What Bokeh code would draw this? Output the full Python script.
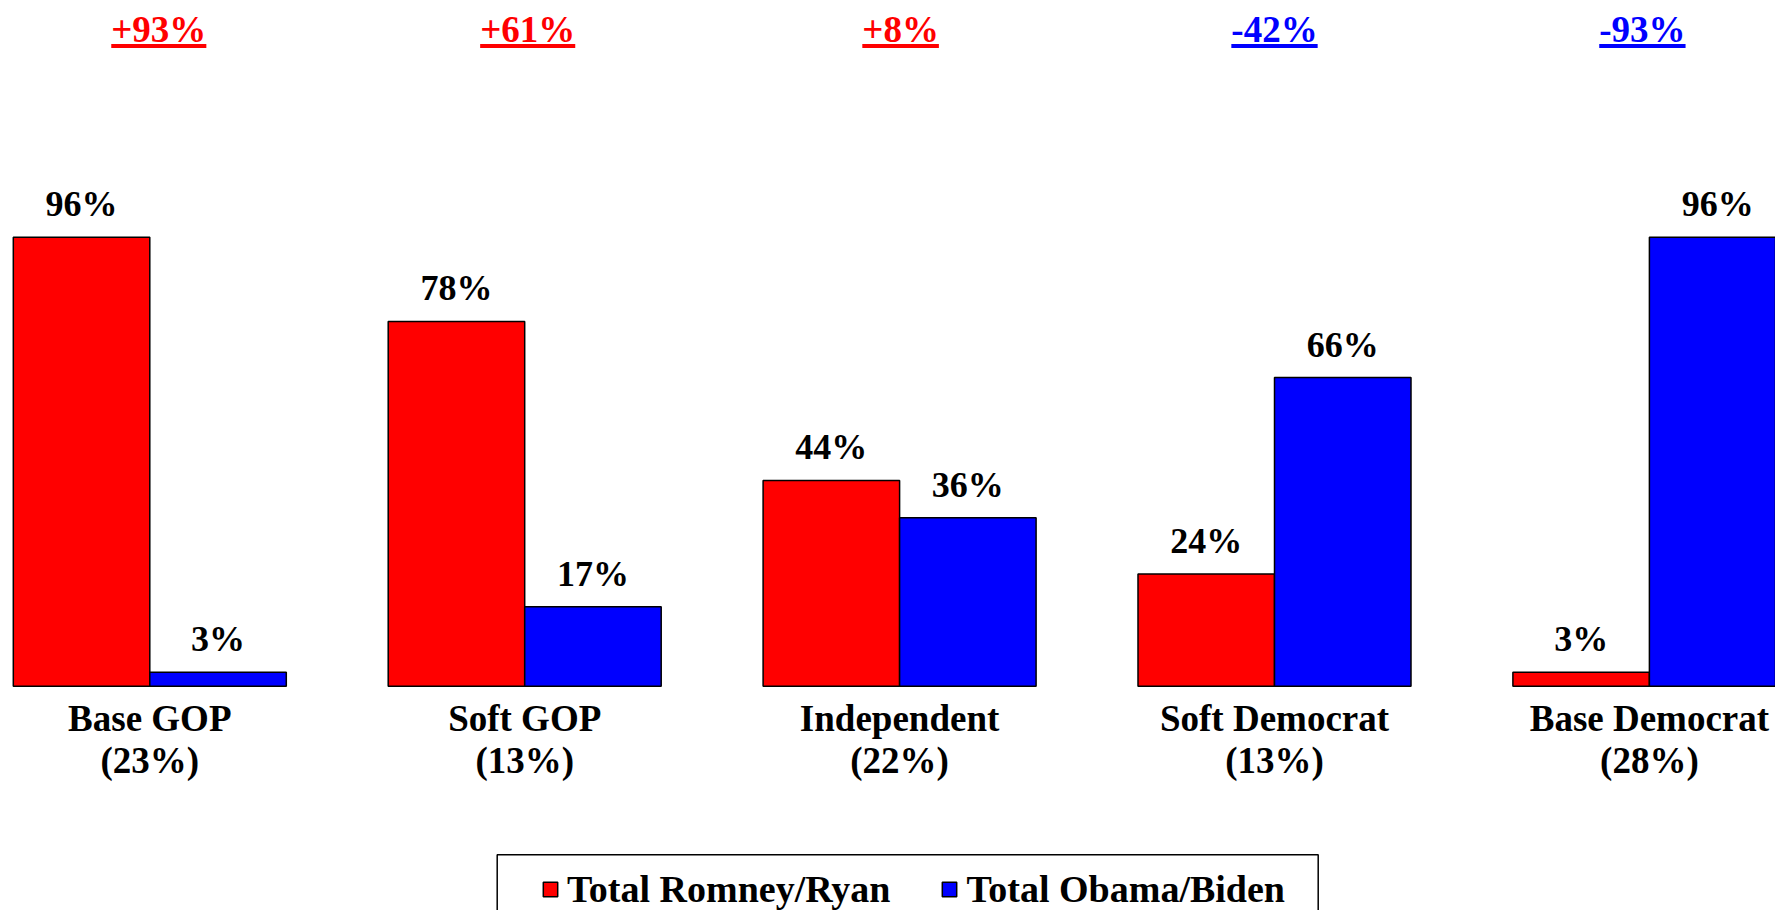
from bokeh.plotting import figure
from bokeh.models import ColumnDataSource, Range1d, Legend, LegendItem, BoxAnnotation
from bokeh.core.properties import value
from bokeh.transform import dodge
from bokeh.embed import file_html
from bokeh.resources import INLINE

# ---------------- data ----------------
categories = ["Base GOP", "Soft GOP", "Independent", "Soft Democrat", "Base Democrat"]
shares = [23, 13, 22, 13, 28]
romney = [96, 78, 44, 24, 3]
obama = [3, 17, 36, 66, 96]
margins = [93, 61, 8, -42, -93]
series_names = ["Total Romney/Ryan", "Total Obama/Biden"]

# ---------------- layout / style ----------------
RED = "#FF0000"
BLUE = "#0000FF"
FONT = "Liberation Serif"

W, H = 1775, 910
PX_X = 374.9             # px per category group
PX_Y = 4.677             # px per percentage point
GROUP0_PX = 149.3        # x of first group centre
BASE_PX = 685.7          # y of the bar baseline
TS = -13                 # text baseline correction (px)


def px_to_x(px):
    return (px - GROUP0_PX) / PX_X


def py_to_y(py):
    return (BASE_PX - py) / PX_Y


BAR_W = 136.5 / PX_X
X_START = px_to_x(0)
Y_TOP = py_to_y(0)

p = figure(width=W, height=H, output_backend="svg", toolbar_location=None,
           x_range=Range1d(X_START, X_START + W / PX_X),
           y_range=Range1d(Y_TOP - H / PX_Y, Y_TOP),
           x_axis_location=None, y_axis_location=None,
           min_border=0, outline_line_color=None,
           background_fill_color="white", border_fill_color="white")
p.grid.visible = False

idx = list(range(len(categories)))
src = ColumnDataSource(dict(
    idx=idx,
    cat=categories,
    share=[f"({s}%)" for s in shares],
    romney=romney,
    obama=obama,
    rl=[f"{v}%" for v in romney],
    ol=[f"{v}%" for v in obama],
))

r_red = p.vbar(x=dodge("idx", -BAR_W / 2), top="romney", bottom=0, width=BAR_W,
               source=src, fill_color=RED, line_color="black", line_width=1.5)
r_blue = p.vbar(x=dodge("idx", BAR_W / 2), top="obama", bottom=0, width=BAR_W,
                source=src, fill_color=BLUE, line_color="black", line_width=1.5)

lbl = dict(text_align="center", text_baseline="alphabetic", text_font=value(FONT),
           text_font_style="bold", text_color="black")
p.text(x=dodge("idx", -BAR_W / 2), y="romney", text="rl", source=src, y_offset=-20 + TS,
       text_font_size="36px", **lbl)
p.text(x=dodge("idx", BAR_W / 2), y="obama", text="ol", source=src, y_offset=-20 + TS,
       text_font_size="36px", **lbl)

# category labels below the bars
p.text(x="idx", y=0, text="cat", source=src, y_offset=45 + TS, text_font_size="37px", **lbl)
p.text(x="idx", y=0, text="share", source=src, y_offset=87.6 + TS, text_font_size="37px", **lbl)

# margin labels on top, underlined
TOP_FS = 37
CHAR_W = {"+": 0.570, "-": 0.333, "%": 1.0}
TOP_OFFSETS_PX = [9, 3, 1, 0, -7]
mtext = [f"{m:+d}%" for m in margins]
msrc = ColumnDataSource(dict(
    x=[i + o / PX_X for i, o in zip(idx, TOP_OFFSETS_PX)],
    text=mtext,
    color=[RED if m > 0 else BLUE for m in margins],
    uw=[sum(CHAR_W.get(c, 0.5) for c in t) * TOP_FS for t in mtext],
))
p.text(x="x", y=py_to_y(41.7), text="text", source=msrc, text_color="color",
       y_offset=TS, text_align="center", text_baseline="alphabetic", text_font=value(FONT),
       text_font_style="bold", text_font_size=f"{TOP_FS}px")
p.rect(x="x", y=py_to_y(45.5), width="uw", height=4, width_units="screen",
       height_units="screen", source=msrc, fill_color="color", line_color=None)

# legend
legend = Legend(items=[LegendItem(label=series_names[0], renderers=[r_red]),
                       LegendItem(label=series_names[1], renderers=[r_blue])],
                orientation="horizontal", location=(541, -0.5),
                padding=0, margin=0, spacing=50, glyph_width=18, glyph_height=18,
                label_standoff=8, label_text_font=FONT, label_text_font_style="bold",
                label_text_font_size="38px", label_text_color="black",
                border_line_color=None, background_fill_alpha=0)
p.add_layout(legend)
p.add_layout(BoxAnnotation(left=px_to_x(496.7), right=px_to_x(1317.7),
                           top=py_to_y(854.3), bottom=py_to_y(980),
                           fill_alpha=0, line_color="black", line_alpha=1.0,
                           line_width=1.5))

open("out.html", "w").write(file_html(p, INLINE))
